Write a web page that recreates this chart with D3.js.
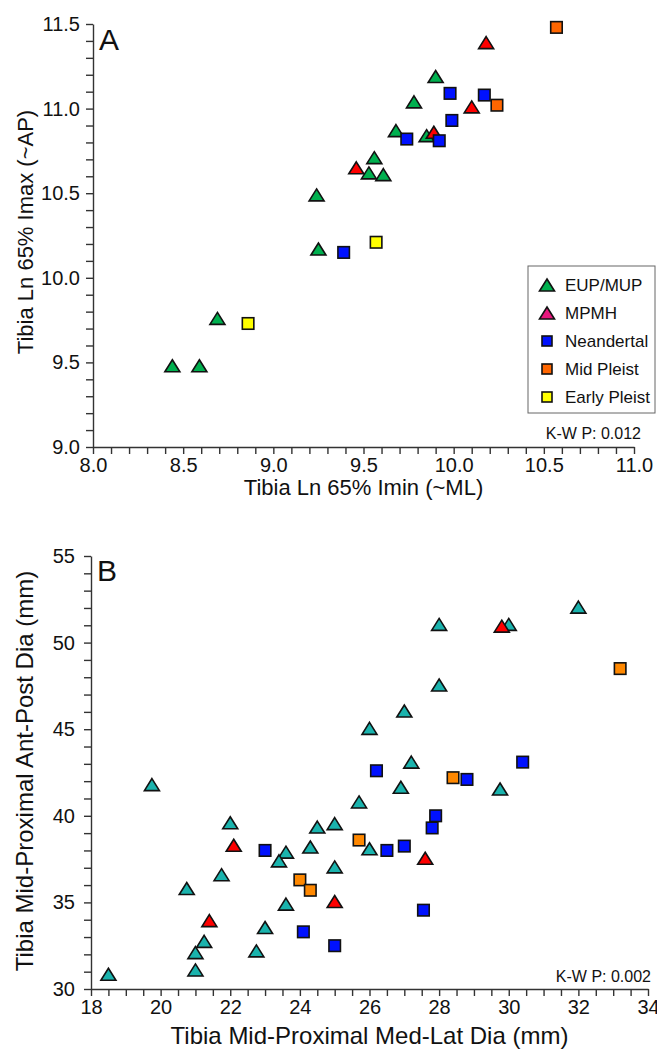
<!DOCTYPE html>
<html lang="en">
<head>
<meta charset="UTF-8">
<title>Tibia cross-section scatter</title>
<script src="https://d3js.org/d3.v7.min.js"></script>
<style>
  body { margin: 0; background: #fff; }
  text { font-family: "Liberation Sans", Arial, sans-serif; fill: #111; }
</style>
</head>
<body>
<script>
// ---- panel A: Ln 65% Imin (x) vs Ln 65% Imax (y) ----
var aEup = [[8.44, 9.48], [8.59, 9.48], [8.69, 9.76], [9.25, 10.17], [9.24, 10.49], [9.53, 10.62],
            [9.61, 10.61], [9.56, 10.71], [9.68, 10.87], [9.85, 10.84], [9.78, 11.04], [9.90, 11.19]];
var aMpmh = [[9.46, 10.65], [9.89, 10.86], [10.10, 11.01], [10.18, 11.39]];
var aNean = [[9.39, 10.15], [9.74, 10.82], [9.92, 10.81], [9.99, 10.93], [9.98, 11.09], [10.17, 11.08]];
var aMid = [[10.24, 11.02], [10.57, 11.48]];
var aEarly = [[8.86, 9.73], [9.57, 10.21]];
var aXTicks = [8.0, 8.5, 9.0, 9.5, 10.0, 10.5, 11.0];
var aYTicks = [9.0, 9.5, 10.0, 10.5, 11.0, 11.5];

// ---- panel B: mid-proximal med-lat (x) vs ant-post (y) ----
var bEup = [[18.5, 30.85], [19.75, 41.8], [22.0, 39.6], [23.6, 37.9], [23.4, 37.4], [24.3, 38.2],
            [24.5, 39.35], [21.75, 36.6], [20.75, 35.8], [23.6, 34.9], [23.0, 33.55], [21.25, 32.75],
            [21.0, 32.1], [22.75, 32.2], [21.0, 31.1], [26.9, 41.65], [29.75, 41.55], [25.7, 40.8],
            [25.0, 39.55], [26.0, 38.1], [25.0, 37.05], [27.0, 46.05], [26.0, 45.05], [27.2, 43.1],
            [32.0, 52.05], [28.0, 51.05], [30.0, 51.05], [28.0, 47.55]];
var bMpmh = [[22.1, 38.3], [21.4, 33.95], [27.6, 37.55], [25.0, 35.05], [29.8, 50.95]];
var bNean = [[23.0, 38.0], [24.1, 33.3], [27.9, 40.0], [27.8, 39.3], [26.5, 38.0], [27.0, 38.25],
             [27.55, 34.55], [25.0, 32.5], [26.2, 42.6], [28.8, 42.1], [30.4, 43.1]];
var bMid = [[24.0, 36.3], [24.3, 35.7], [25.7, 38.6], [28.4, 42.2], [33.2, 48.5]];
var bXTicks = [18, 20, 22, 24, 26, 28, 30, 32, 34];
var bYTicks = [30, 35, 40, 45, 50, 55];

var groupNames = ["EUP/MUP", "MPMH", "Neandertal", "Mid Pleist", "Early Pleist"];
var groupShapes = ["tri", "tri", "sq", "sq", "sq"];
var legendColors = ["#00b04f", "#e8177d", "#0011ff", "#ff6600", "#ffff00"];

var svg = d3.select("body").append("svg")
    .attr("width", 657).attr("height", 1053);

function marker(sel, shape, size) {
    if (shape == "tri") {
        var w = size * 1.25 / 2, h = size;
        sel.append("path").attr("d", "M0," + (-h / 2) + "L" + w + "," + (h / 2) + "L" + (-w) + "," + (h / 2) + "Z");
    } else {
        sel.append("rect").attr("x", -size / 2).attr("y", -size / 2).attr("width", size).attr("height", size);
    }
}

function drawPanel(p) {
    var g = svg.append("g");
    var x = d3.scaleLinear().domain(p.xDomain).range(p.xRange);
    var y = d3.scaleLinear().domain(p.yDomain).range(p.yRange);

    var isMajor = function (list) {
        return function (d) { return list.some(function (m) { return Math.abs(m - d) < 1e-6; }); };
    };
    var xMaj = isMajor(p.xTicks), yMaj = isMajor(p.yTicks);

    var xAxis = d3.axisBottom(x).tickValues(x.ticks(p.xMinor)).tickSize(7).tickSizeOuter(0)
        .tickPadding(4).tickFormat(function (d) { return xMaj(d) ? p.fmt(d) : ""; });
    var yAxis = d3.axisLeft(y).tickValues(y.ticks(p.yMinor)).tickSize(7).tickSizeOuter(0)
        .tickPadding(p.yPad).tickFormat(function (d) { return yMaj(d) ? p.fmt(d) : ""; });

    var gx = g.append("g").attr("transform", "translate(0," + p.yRange[0] + ")").call(xAxis);
    var gy = g.append("g").attr("transform", "translate(" + p.xRange[0] + ",0)").call(yAxis);
    [gx, gy].forEach(function (a) {
        a.selectAll("path, line").attr("stroke", "#333").attr("stroke-width", 1.4);
        a.selectAll("text").style("font-size", "20px").attr("fill", "#111")
            .style("font-family", '"Liberation Sans", Arial, sans-serif');
    });

    // points
    p.groups.forEach(function (grp) {
        grp.data.forEach(function (d) {
            var m = g.append("g").attr("transform", "translate(" + x(d[0]) + "," + y(d[1]) + ")")
                .attr("fill", grp.color).attr("stroke", "#111").attr("stroke-width", 1.6)
                .attr("stroke-linejoin", "miter");
            marker(m, grp.shape, grp.shape == "tri" ? 12 : 11.5);
        });
    });

    // labels
    g.append("text").attr("x", p.xRange[0] + 6).attr("y", p.yRange[1] + p.letterDy)
        .style("font-size", "30px").text(p.letter);
    g.append("text").attr("x", (p.xRange[0] + p.xRange[1]) / 2).attr("y", p.xTitleY)
        .attr("text-anchor", "middle").style("font-size", p.titleSize + "px").text(p.xTitle);
    g.append("text").attr("transform", "translate(33," + p.yTitleY + ") rotate(-90)")
        .attr("text-anchor", "middle").style("font-size", p.titleSize + "px").text(p.yTitle);
    g.append("text").attr("x", p.kwX).attr("y", p.kwY).attr("text-anchor", "end")
        .style("font-size", "16px").text(p.kw);
}

drawPanel({
    xDomain: [8, 11], xRange: [93, 634], yDomain: [9, 11.5], yRange: [447, 24],
    xMinor: 30, yMinor: 25, xTicks: aXTicks, yTicks: aYTicks, yPad: 6,
    fmt: d3.format(".1f"), letter: "A", letterDy: 26,
    xTitle: "Tibia Ln 65% Imin (~ML)", yTitle: "Tibia Ln 65% Imax (~AP)",
    xTitleY: 495, yTitleY: 232, titleSize: 22,
    kw: "K-W P: 0.012", kwX: 641, kwY: 439,
    groups: [
        {data: aEup, color: "#00b04f", shape: "tri"},
        {data: aMpmh, color: "#ff0000", shape: "tri"},
        {data: aNean, color: "#0011ff", shape: "sq"},
        {data: aMid, color: "#ff6600", shape: "sq"},
        {data: aEarly, color: "#ffff00", shape: "sq"}
    ]
});

drawPanel({
    xDomain: [18, 34], xRange: [91, 648], yDomain: [30, 55], yRange: [989, 556],
    xMinor: 32, yMinor: 25, xTicks: bXTicks, yTicks: bYTicks, yPad: 9,
    fmt: d3.format("d"), letter: "B", letterDy: 25,
    xTitle: "Tibia Mid-Proximal Med-Lat Dia (mm)", yTitle: "Tibia Mid-Proximal Ant-Post Dia (mm)",
    xTitleY: 1044, yTitleY: 771, titleSize: 24,
    kw: "K-W P: 0.002", kwX: 651, kwY: 982,
    groups: [
        {data: bEup, color: "#1ab3ad", shape: "tri"},
        {data: bMpmh, color: "#ff0000", shape: "tri"},
        {data: bNean, color: "#0011ff", shape: "sq"},
        {data: bMid, color: "#ff8800", shape: "sq"}
    ]
});

// legend for panel A
var leg = svg.append("g");
leg.append("rect").attr("x", 528).attr("y", 266).attr("width", 127).attr("height", 147)
    .attr("fill", "#fff").attr("stroke", "#666").attr("stroke-width", 1);
groupNames.forEach(function (name, i) {
    var cy = 285 + i * 28;
    var m = leg.append("g").attr("transform", "translate(547," + cy + ")")
        .attr("fill", legendColors[i]).attr("stroke", "#111").attr("stroke-width", 1.6);
    marker(m, groupShapes[i], groupShapes[i] == "tri" ? 12 : 10);
    leg.append("text").attr("x", 565).attr("y", cy + 6).style("font-size", "17px").text(name);
});
</script>
</body>
</html>
